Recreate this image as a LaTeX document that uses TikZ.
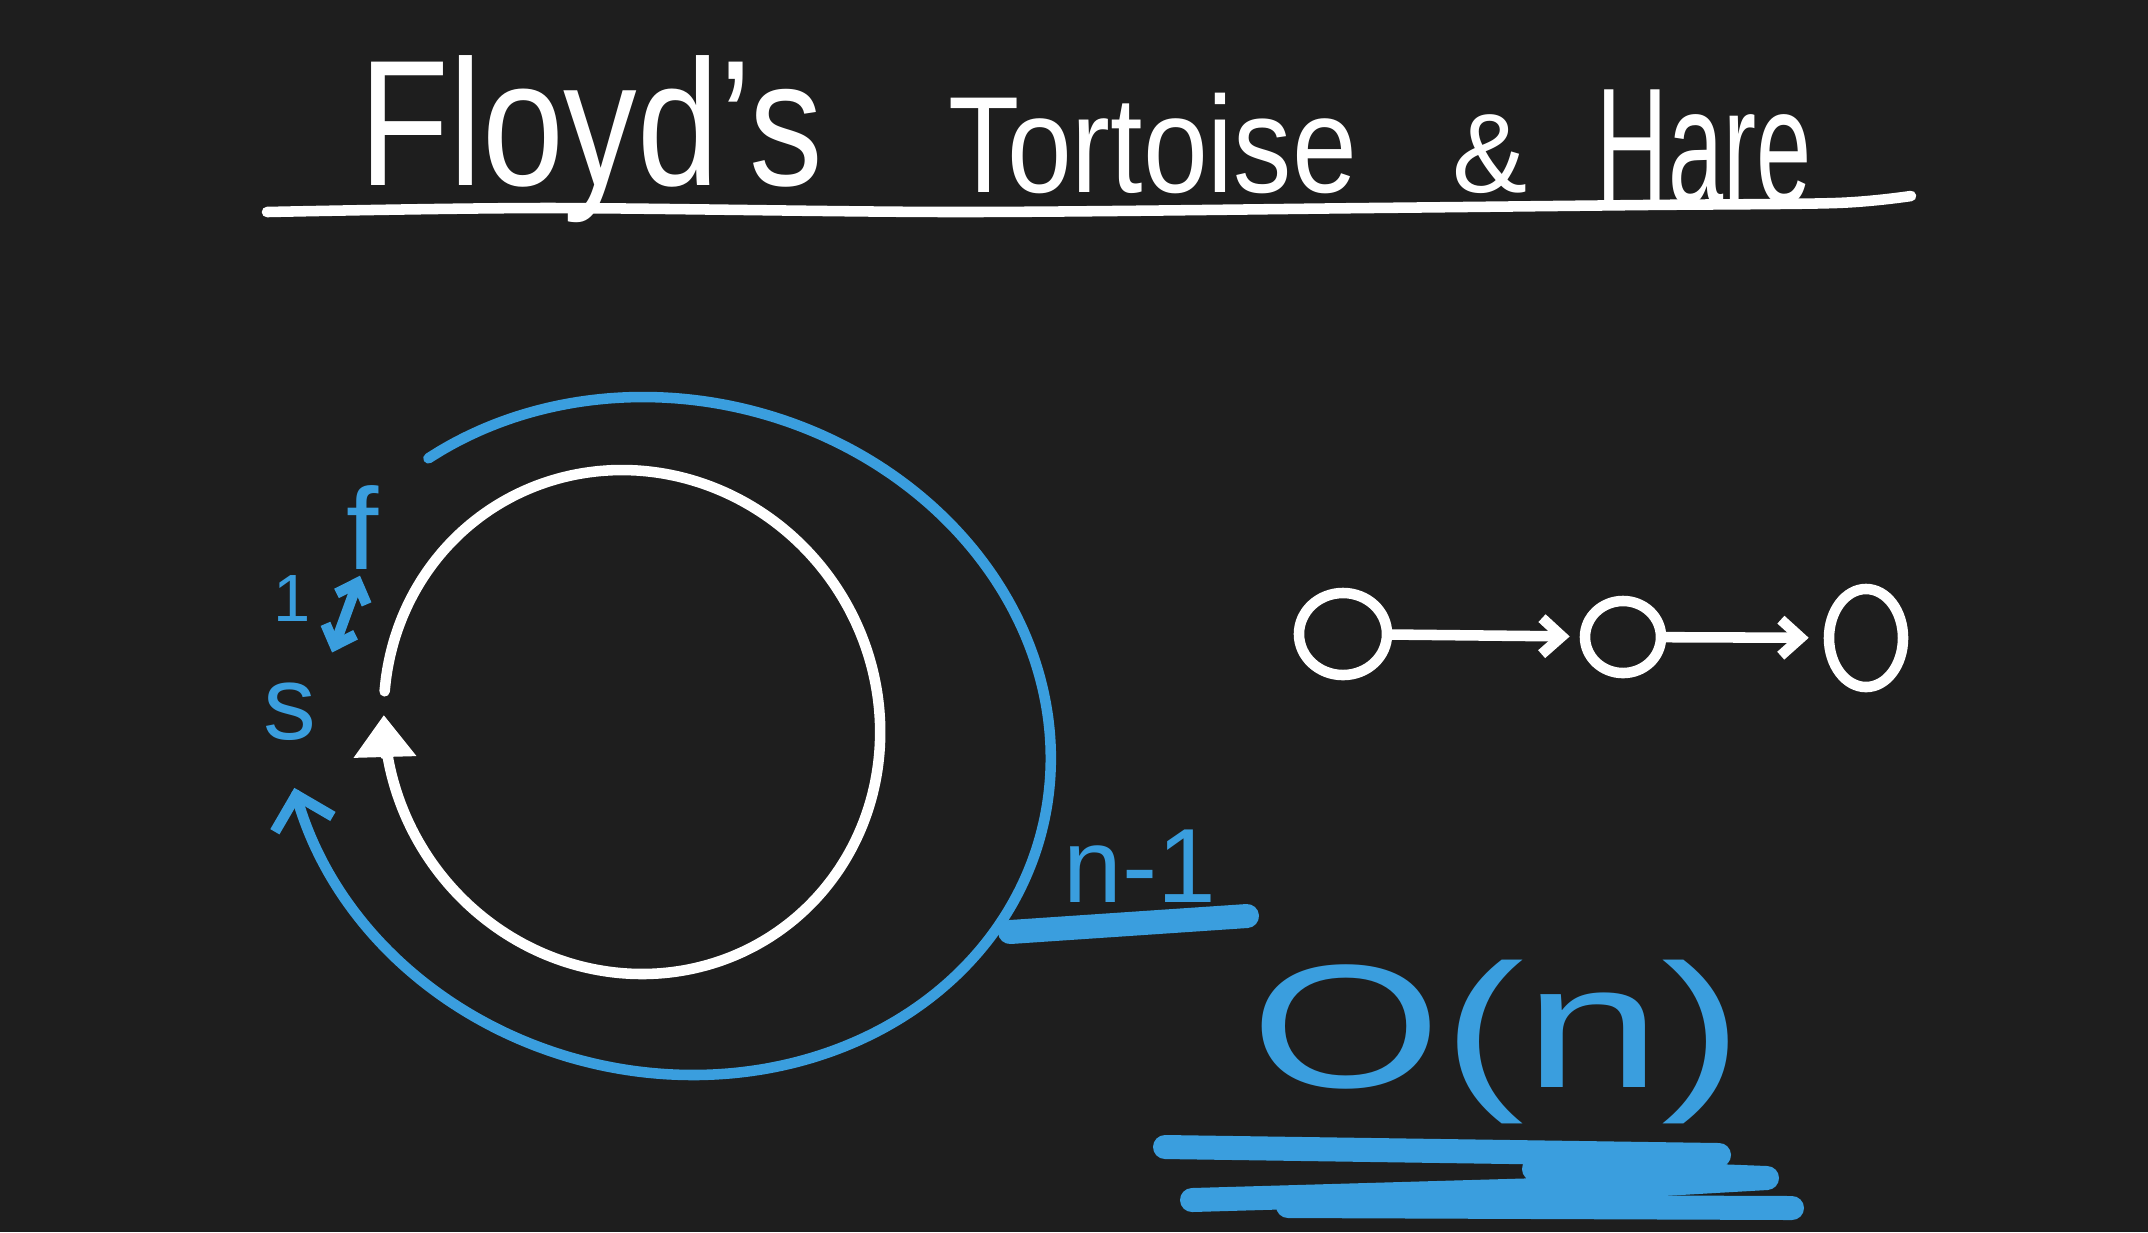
\documentclass[tikz,border=0pt]{standalone}
\usepackage{fontspec}
\setmainfont{Liberation Sans}
\usetikzlibrary{arrows.meta,shapes.geometric,calc}

\definecolor{board}{RGB}{30,30,30}
\definecolor{chalkblue}{RGB}{58,158,222}

\begin{document}
\begin{tikzpicture}[x=0.01cm,y=-0.01cm,
    wline/.style={white, line width=3pt, line cap=round, line join=round},
    bline/.style={chalkblue, line width=3pt, line cap=round, line join=round},
    marker/.style={chalkblue, line width=0.24cm, line cap=round, line join=round},
    listnode/.style={draw=white, line width=3pt, ellipse, inner sep=0pt},
    word/.style={white, anchor=base west, inner sep=0pt},
    tag/.style={chalkblue, inner sep=0pt}]
    \useasboundingbox (0,0) rectangle (2148,1232);
    \fill[board] (0,0) rectangle (2148,1232);

    % Title
    \node[word, xscale=0.82, font=\fontsize{51}{51}\selectfont] (floyd) at (359,185) {Floyd's};
    \node[word, xscale=0.85, font=\fontsize{39}{39}\selectfont] (tortoise) at (948,192) {Tortoise};
    \node[word, font=\fontsize{32}{32}\selectfont] (amp) at (1452,192) {\&};
    \node[word, xscale=0.6, font=\fontsize{47}{47}\selectfont] (hare) at (1596,203) {Hare};
    \draw[wline] plot[smooth] coordinates {(267,212) (548,208) (959,212) (1370,208) (1644,205) (1836,203) (1911,196)};

    % Inner loop (white)
    \draw[wline, -{Triangle[length=0.42cm, width=0.6cm]}, domain=187:541.6, samples=120, smooth, variable=\t]
        plot ({632+248*cos(\t)+10*sin(\t)}, {722+252*sin(\t)});

    % Outer loop (blue)
    \draw[bline, -{Straight Barb[length=0.3cm, width=0.6cm]}, domain=235:531.2, samples=120, smooth, variable=\t]
        plot ({668+382*cos(\t)+25*sin(\t)}, {736+339*sin(\t)});

    % Pointers
    \node[tag, font=\fontsize{33}{33}\selectfont] (fast) at (363,527) {f};
    \node[tag, font=\fontsize{30}{30}\selectfont] (slow) at (290,712) {s};
    \node[tag, font=\fontsize{19}{19}\selectfont] (gap) at (292,598) {1};
    \draw[bline, {Straight Barb[length=0.17cm, width=0.32cm]}-{Straight Barb[length=0.17cm, width=0.32cm]}]
        ($(fast.south)+(-3,6)$) -- ($(slow.north east)+(15,-30)$);

    % Length of the cycle
    \node[tag, font=\fontsize{30}{30}\selectfont] (steps) at (1140,866) {n-1};
    \draw[marker] (1010,932) -- (1247,916);

    % Linked list
    \node[listnode, minimum width=0.88cm, minimum height=0.82cm] (n1) at (1343,634) {};
    \node[listnode, minimum width=0.76cm, minimum height=0.72cm] (n2) at (1623,637) {};
    \node[listnode, minimum width=0.74cm, minimum height=0.98cm] (n3) at (1866,638) {};
    \draw[wline, -{Straight Barb[length=0.2cm, width=0.36cm]}, shorten >=0.1cm] (n1) -- (n2);
    \draw[wline, -{Straight Barb[length=0.2cm, width=0.36cm]}, shorten >=0.15cm] (n2) -- (n3);

    % Complexity
    \node[tag, xscale=1.4, font=\fontsize{50}{50}\selectfont] (bigo) at (1497,1042) {O(n)};
    \draw[marker] (1165,1147) -- (1719,1155) -- (1534,1169) -- (1767,1178) -- (1576,1189) -- (1192,1200);
    \draw[marker] (1288,1206) -- (1792,1208);
\end{tikzpicture}
\end{document}
